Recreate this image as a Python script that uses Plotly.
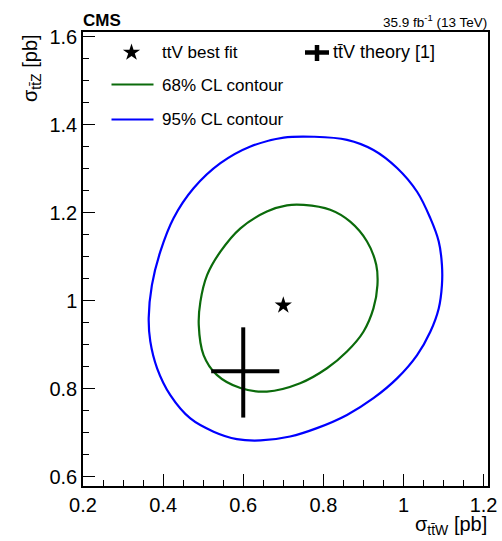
import plotly.graph_objects as go

# ---------------- data ----------------
blue_x = [0.776, 0.859, 0.925, 0.984, 1.034, 1.067, 1.088, 1.096, 1.096, 1.088, 1.067, 1.034,
          0.984, 0.925, 0.859, 0.784, 0.717, 0.643, 0.584, 0.526, 0.468, 0.418, 0.385, 0.368,
          0.364, 0.372, 0.393, 0.426, 0.476, 0.543, 0.618, 0.701, 0.776]
blue_y = [1.373, 1.366, 1.343, 1.302, 1.248, 1.188, 1.135, 1.082, 1.036, 0.983, 0.930, 0.877,
          0.824, 0.779, 0.741, 0.711, 0.692, 0.683, 0.686, 0.703, 0.733, 0.786, 0.847, 0.908,
          0.961, 1.036, 1.112, 1.188, 1.256, 1.313, 1.351, 1.371, 1.373]

green_x = [0.751, 0.817, 0.867, 0.909, 0.932, 0.935, 0.925, 0.900, 0.859, 0.809, 0.742, 0.659,
           0.593, 0.534, 0.501, 0.489, 0.493, 0.510, 0.543, 0.593, 0.659, 0.709, 0.751]
green_y = [1.218, 1.207, 1.180, 1.135, 1.082, 1.036, 0.983, 0.930, 0.885, 0.847, 0.813, 0.794,
           0.802, 0.832, 0.877, 0.945, 0.998, 1.059, 1.112, 1.165, 1.203, 1.217, 1.218]

best_fit_x = [0.70]
best_fit_y = [0.99]

theory_x = [0.60]
theory_y = [0.84]
theory_x_minus = [0.08]
theory_x_plus = [0.09]
theory_y_minus = [0.105]
theory_y_plus = [0.10]

x_tick_vals = [0.2, 0.4, 0.6, 0.8, 1.0, 1.2]
x_tick_text = ["0.2", "0.4", "0.6", "0.8", "1", "1.2"]
y_tick_vals = [0.6, 0.8, 1.0, 1.2, 1.4, 1.6]
y_tick_text = ["0.6", "0.8", "1", "1.2", "1.4", "1.6"]

legend_labels = ["ttV best fit", "tt\u0304V theory [1]", "68% CL contour", "95% CL contour"]

# ---------------- layout helpers ----------------
W, H = 502, 541
L, R, T, B = 83, 14, 32, 55
PW, PH = W - L - R, H - T - B
FONT = "Liberation Sans, Arial, Helvetica, sans-serif"
GREEN = "#0b6b0b"
BLUE = "#0000ff"


def px(x):
    return (x - L) / PW


def py(y):
    return (H - B - y) / PH


fig = go.Figure()

fig.add_trace(go.Scatter(x=blue_x, y=blue_y, mode="lines", line=dict(color=BLUE, width=2.2, shape="spline", smoothing=1.0),
                         showlegend=False, hoverinfo="skip"))
fig.add_trace(go.Scatter(x=green_x, y=green_y, mode="lines", line=dict(color=GREEN, width=2.2, shape="spline", smoothing=1.0),
                         showlegend=False, hoverinfo="skip"))
fig.add_trace(go.Scatter(x=theory_x, y=theory_y, mode="markers", marker=dict(size=1, color="black", opacity=0),
                         error_x=dict(type="data", symmetric=False, array=theory_x_plus, arrayminus=theory_x_minus,
                                      thickness=4, width=0, color="black"),
                         error_y=dict(type="data", symmetric=False, array=theory_y_plus, arrayminus=theory_y_minus,
                                      thickness=4, width=0, color="black"),
                         showlegend=False))
fig.add_trace(go.Scatter(x=best_fit_x, y=best_fit_y, mode="markers",
                         marker=dict(symbol="star", size=13, color="black", line=dict(width=0)),
                         showlegend=False))

# legend star on overlay axes (paper-like 0..1)
fig.add_trace(go.Scatter(x=[px(131.5)], y=[py(52.5)], xaxis="x2", yaxis="y2", mode="markers",
                         marker=dict(symbol="star", size=13, color="black", line=dict(width=0)),
                         showlegend=False, hoverinfo="skip"))

shapes = [
    dict(type="line", xref="paper", yref="paper", x0=px(111.5), x1=px(153.5), y0=py(84.5), y1=py(84.5),
         line=dict(color=GREEN, width=2.2)),
    dict(type="line", xref="paper", yref="paper", x0=px(111.5), x1=px(153.5), y0=py(119.5), y1=py(119.5),
         line=dict(color=BLUE, width=2.2)),
    dict(type="line", xref="paper", yref="paper", x0=px(305), x1=px(329), y0=py(52.5), y1=py(52.5),
         line=dict(color="black", width=4.5)),
    dict(type="line", xref="paper", yref="paper", x0=px(317), x1=px(317), y0=py(45), y1=py(61),
         line=dict(color="black", width=4.5)),
]

ann = []
lf = dict(family=FONT, size=17, color="black")
ann.append(dict(x=px(160), y=py(52.5), xref="paper", yref="paper", text=legend_labels[0], showarrow=False,
                xanchor="left", yanchor="middle", font=lf))
ann.append(dict(x=px(330.5), y=py(52.5), xref="paper", yref="paper", text=legend_labels[1], showarrow=False,
                xanchor="left", yanchor="middle", font=dict(family=FONT, size=18, color="black")))
ann.append(dict(x=px(160), y=py(85), xref="paper", yref="paper", text=legend_labels[2], showarrow=False,
                xanchor="left", yanchor="middle", font=lf))
ann.append(dict(x=px(160), y=py(120), xref="paper", yref="paper", text=legend_labels[3], showarrow=False,
                xanchor="left", yanchor="middle", font=lf))
ann.append(dict(x=px(81), y=py(21), xref="paper", yref="paper", text="<b>CMS</b>", showarrow=False,
                xanchor="left", yanchor="middle", font=dict(family=FONT, size=17, color="black")))
ann.append(dict(x=px(489), y=py(21), xref="paper", yref="paper", text="35.9 fb<sup>-1</sup> (13 TeV)", showarrow=False,
                xanchor="right", yanchor="middle", font=dict(family=FONT, size=13.5, color="black")))
ann.append(dict(x=px(489), y=py(525), xref="paper", yref="paper", text="\u03c3<sub>tt\u0304W</sub> [pb]", showarrow=False,
                xanchor="right", yanchor="middle", font=dict(family=FONT, size=20, color="black")))
ann.append(dict(x=px(31), y=py(32), xref="paper", yref="paper", text="\u03c3<sub>tt\u0304Z</sub> [pb]", showarrow=False,
                xanchor="center", yanchor="top", textangle=-90, font=dict(family=FONT, size=20, color="black")))

axis_common = dict(
    showgrid=False, zeroline=False, showline=True, linecolor="black", linewidth=1.5, mirror=True,
    automargin=False,
    ticks="inside", ticklen=12, tickwidth=1, tickcolor="black",
    tickfont=dict(family=FONT, size=20, color="black"),
    minor=dict(ticks="inside", ticklen=6, tickwidth=1, tickcolor="black", dtick=0.05, tick0=0.2, showgrid=False),
)

fig.update_layout(
    width=W, height=H, margin=dict(l=L, r=R, t=T, b=B),
    plot_bgcolor="white", paper_bgcolor="white",
    showlegend=False,
    xaxis=dict(range=[0.2, 1.211], tickvals=x_tick_vals, ticktext=x_tick_text, **axis_common),
    yaxis=dict(range=[0.5795, 1.611], tickvals=y_tick_vals, ticktext=y_tick_text, **axis_common),
    xaxis2=dict(range=[0, 1], overlaying="x", visible=False),
    yaxis2=dict(range=[0, 1], overlaying="y", visible=False),
    shapes=shapes, annotations=ann,
)

fig.write_html("out.html", config={"displayModeBar": False},
               post_script="document.body.style.margin='0';document.body.style.padding='0';")
